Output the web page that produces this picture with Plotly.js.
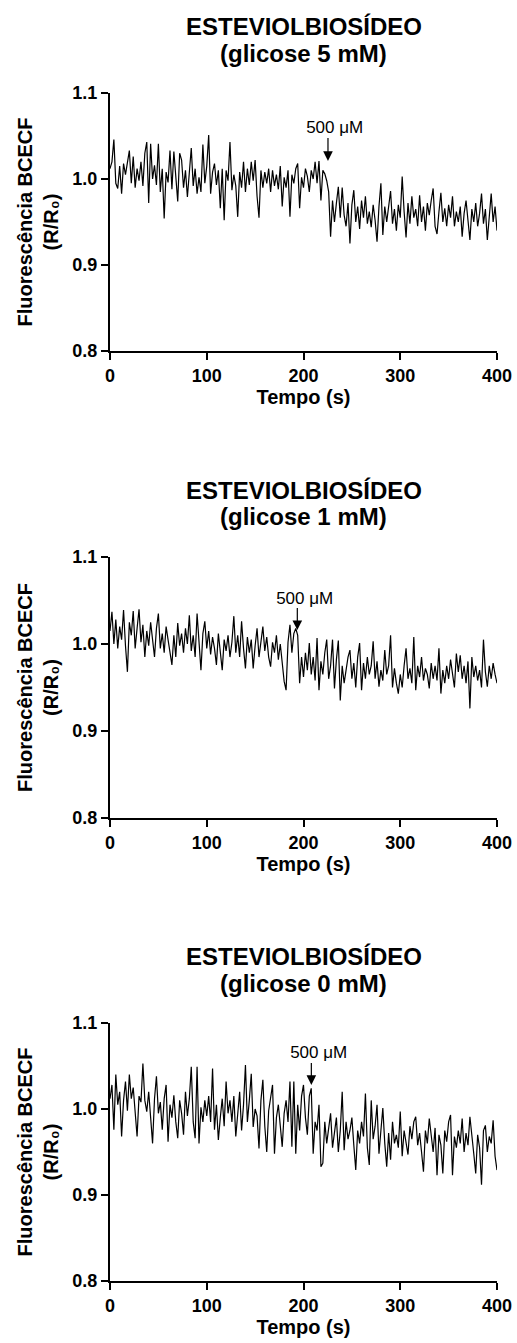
<!DOCTYPE html>
<html>
<head>
<meta charset="utf-8">
<script src="https://cdn.plot.ly/plotly-3.0.1.min.js"></script>
<style>
  html, body { margin: 0; padding: 0; background: #ffffff; }
  #chart { width: 517px; height: 1343px; }
</style>
</head>
<body>
<div id="chart"></div>
<script>
// ---------------- DATA ----------------
const sampleStep = 2; // seconds between plotted samples
const nSamples = 201;
const time = Array.from({length: nSamples}, (_, i) => i * sampleStep);

const panelTitles = ["ESTEVIOLBIOSÍDEO", "ESTEVIOLBIOSÍDEO", "ESTEVIOLBIOSÍDEO"];
const panelSubtitles = ["(glicose 5 mM)", "(glicose 1 mM)", "(glicose 0 mM)"];
const xTitle = "Tempo (s)";
const yTitle = "Fluorescência BCECF<br>(R/R\u2080)";
const doseLabel = "500 μM";
const doseTime = [225.3, 193.6, 208.1];      // s, time of addition (arrow)
const doseTipValue = [1.021, 1.016, 1.028];  // R/R0 at arrow tip

const xTickVals = [0, 100, 200, 300, 400];
const yTickVals = [0.8, 0.9, 1.0, 1.1];

// glicose 5 mM
const glucose5 = [
  1.012, 1.020, 1.046, 0.995, 0.989, 1.015, 0.983, 1.018, 1.005, 1.022,
  1.033, 0.995, 1.026, 0.990, 1.012, 0.998, 1.020, 0.992, 1.030, 1.043,
  0.972, 1.041, 1.000, 1.016, 0.993, 1.041, 0.985, 1.012, 0.954, 1.008,
  0.996, 1.033, 0.988, 1.032, 1.005, 0.974, 1.030, 1.022, 0.990, 1.010,
  0.979, 1.005, 1.036, 0.992, 1.012, 0.983, 1.002, 0.985, 1.040, 0.995,
  1.015, 1.051, 0.983, 1.008, 1.018, 0.993, 1.010, 0.966, 1.012, 0.952,
  1.010, 0.998, 1.043, 0.987, 1.005, 0.992, 0.956, 1.008, 0.990, 1.020,
  0.985, 1.012, 0.993, 1.020, 0.998, 1.022, 0.980, 0.955, 1.010, 0.990,
  1.008, 0.995, 1.012, 0.985, 1.010, 0.992, 1.005, 0.988, 1.015, 0.968,
  1.002, 0.990, 1.010, 0.956, 1.005, 0.995, 1.012, 1.018, 0.966, 1.002,
  0.990, 1.012, 1.003, 0.985, 1.010, 1.000, 1.020, 0.995, 1.021, 0.975,
  1.010, 1.006, 0.998, 0.985, 0.933, 0.975, 0.950, 0.972, 0.991, 0.955,
  0.990, 0.958, 0.945, 0.972, 0.925, 0.970, 0.987, 0.950, 0.968, 0.942,
  0.975, 0.955, 0.980, 0.948, 0.962, 0.944, 0.970, 0.952, 0.927, 0.968,
  0.995, 0.935, 0.968, 0.950, 0.972, 0.986, 0.948, 0.965, 0.940, 0.970,
  0.955, 1.003, 0.962, 0.932, 0.972, 0.948, 0.980, 0.955, 0.965, 0.945,
  0.981, 0.950, 0.968, 0.940, 0.972, 0.958, 0.975, 0.989, 0.945, 0.936,
  0.962, 0.984, 0.950, 0.966, 0.945, 0.970, 0.955, 0.980, 0.945, 0.962,
  0.950, 0.968, 0.933, 0.960, 0.975, 0.948, 0.929, 0.965, 0.950, 0.972,
  0.945, 0.960, 0.983, 0.948, 0.965, 0.929, 0.958, 0.983, 0.950, 0.968,
  0.940
];

// glicose 1 mM
const glucose1 = [
  1.015, 1.037, 1.000, 1.028, 0.995, 1.020, 1.005, 1.039, 0.998, 0.968,
  1.025, 1.010, 1.038, 0.995, 1.018, 1.040, 1.002, 1.022, 0.985, 1.015,
  0.998, 1.025, 1.005, 0.985, 1.018, 1.035, 0.995, 1.012, 0.990, 1.020,
  1.005, 0.992, 0.976, 1.010, 0.985, 1.024, 0.998, 1.012, 0.990, 1.018,
  1.000, 1.033, 0.992, 1.010, 0.985, 1.035, 1.002, 0.970, 1.012, 1.026,
  0.995, 1.015, 0.988, 1.008, 0.995, 0.976, 1.012, 0.990, 0.970, 1.005,
  0.992, 1.010, 0.985, 1.002, 1.032, 0.990, 1.010, 0.985, 1.026, 0.995,
  0.972, 1.008, 0.990, 1.005, 0.972, 0.998, 1.018, 0.985, 1.005, 1.020,
  0.992, 1.008, 0.985, 0.974, 1.002, 0.990, 1.010, 0.982, 1.000, 0.975,
  0.957, 0.947, 1.002, 1.022, 0.990, 1.012, 1.018, 1.010, 0.955, 0.985,
  0.962, 0.990, 0.970, 1.001, 0.965, 0.985, 0.958, 1.007, 0.947, 0.980,
  0.965, 0.990, 1.005, 0.960, 0.975, 1.005, 0.949, 0.982, 1.004, 0.935,
  0.975, 0.955, 0.970, 0.985, 0.993, 0.960, 0.978, 0.950, 0.985, 1.001,
  0.947, 0.978, 0.960, 0.985, 0.965, 0.975, 1.003, 0.960, 0.980, 0.951,
  0.970, 0.958, 0.993, 0.965, 0.975, 1.010, 0.950, 0.972, 0.955, 0.943,
  0.965, 0.950, 0.975, 0.995, 0.960, 0.972, 0.955, 1.008, 0.947, 0.975,
  0.962, 0.985, 0.958, 0.972, 0.965, 0.949, 0.978, 0.960, 0.975, 0.958,
  0.995, 0.943, 0.970, 0.955, 0.975, 0.960, 0.982, 0.965, 0.950, 0.989,
  0.968, 0.987, 0.960, 0.975, 0.955, 0.980, 0.926, 0.985, 0.962, 0.975,
  0.958, 0.970, 0.950, 1.005, 0.968, 0.951, 0.975, 0.960, 0.978, 0.965,
  0.955
];

// glicose 0 mM
const glucose0 = [
  1.012, 1.028, 0.976, 1.040, 1.005, 1.020, 0.968, 1.010, 1.032, 0.998,
  1.040, 1.012, 1.025, 0.995, 0.968, 1.015, 1.008, 1.053, 1.010, 0.997,
  1.020, 0.990, 0.960, 1.012, 1.038, 0.995, 1.008, 0.976, 1.012, 1.028,
  0.962, 1.005, 0.990, 1.016, 0.985, 0.966, 1.010, 0.995, 0.970, 1.020,
  0.992, 1.012, 1.049, 0.985, 0.966, 1.049, 0.960, 1.002, 0.985, 1.010,
  0.992, 1.015, 0.985, 1.047, 0.976, 1.005, 0.964, 0.990, 1.012, 0.980,
  1.032, 0.995, 1.010, 0.985, 1.015, 0.968, 1.000, 1.020, 0.975, 1.005,
  1.051, 0.985, 1.010, 1.041, 0.979, 1.000, 0.992, 0.954, 1.010, 1.034,
  0.980, 0.950, 0.998, 1.012, 1.028, 0.948, 0.990, 1.005, 0.975, 0.956,
  0.995, 1.010, 0.985, 1.032, 0.956, 1.032, 0.948, 1.005, 0.975, 1.015,
  1.028, 0.990, 0.970, 1.015, 1.024, 0.948, 0.985, 0.975, 1.005, 0.933,
  0.937, 0.985, 0.960, 0.978, 0.995, 0.955, 0.970, 0.990, 0.950, 0.975,
  1.020, 0.952, 0.985, 0.965, 0.975, 0.990, 0.958, 0.929, 0.975, 0.960,
  0.985, 0.968, 1.018, 0.955, 0.935, 1.010, 0.965, 0.980, 1.005, 0.948,
  0.975, 1.001, 0.960, 0.933, 0.972, 0.941, 0.985, 0.960, 0.970, 0.955,
  0.997, 0.945, 0.975, 0.962, 0.947, 0.980, 0.965, 0.985, 0.991, 0.958,
  0.972, 0.950, 0.927, 0.975, 0.960, 0.989, 0.965, 0.950, 0.978, 0.923,
  0.970, 0.958, 0.925, 0.975, 0.962, 0.985, 0.993, 0.923, 0.968, 0.955,
  0.975, 0.960, 0.989, 0.950, 0.972, 0.958, 0.991, 0.965, 0.948, 0.925,
  0.970, 0.955, 0.912, 0.975, 0.981, 0.950, 0.968, 0.960, 0.987, 0.945,
  0.929
];

const seriesList = [glucose5, glucose1, glucose0];

// ---------------- LAYOUT (pixel geometry of the page) ----------------
const W = 517, H = 1343;
const FONT = "'Liberation Sans', Arial, Helvetica, sans-serif";
const plotLeft = 110, plotRight = 497;
const panelTop = [93, 557, 1023];
const panelBottom = [351, 818, 1281];
const labelOffsetPx = [-33, -32, -32];
const xRange = [0, 400];
const yRange = [0.8, 1.1];

const px2x = p => p / W;
const py2y = p => 1 - p / H;

const layout = {
  width: W, height: H,
  margin: {l: 0, r: 0, t: 0, b: 0, pad: 0},
  paper_bgcolor: '#ffffff',
  plot_bgcolor: '#ffffff',
  showlegend: false,
  hovermode: false,
  font: {family: FONT, color: '#000000'},
  annotations: []
};

const traces = [];

for (let i = 0; i < 3; i++) {
  const sfx = i === 0 ? '' : String(i + 1);
  const xa = 'xaxis' + sfx, ya = 'yaxis' + sfx;
  const xr = 'x' + sfx, yr = 'y' + sfx;
  const common = {
    showline: true, linecolor: '#000000', linewidth: 2,
    ticks: 'outside', ticklen: 7, tickwidth: 2, tickcolor: '#000000',
    showgrid: false, zeroline: false, fixedrange: true, automargin: false,
    tickfont: {family: FONT, size: 18, color: '#000000', weight: 'bold'}
  };
  layout[xa] = Object.assign({}, common, {
    domain: [px2x(plotLeft), px2x(plotRight)],
    range: xRange, anchor: yr,
    tickmode: 'array', tickvals: xTickVals, ticktext: xTickVals.map(String),
    title: {text: xTitle, standoff: 4,
            font: {family: FONT, size: 20, color: '#000000', weight: 'bold'}}
  });
  layout[ya] = Object.assign({}, common, {
    domain: [py2y(panelBottom[i]), py2y(panelTop[i])],
    range: yRange, anchor: xr,
    tickmode: 'array', tickvals: yTickVals, ticktext: yTickVals.map(v => v.toFixed(1)),
    title: {text: yTitle, standoff: 8,
            font: {family: FONT, size: 20, color: '#000000', weight: 'bold'}}
  });

  traces.push({
    x: time, y: seriesList[i], xaxis: xr, yaxis: yr,
    type: 'scatter', mode: 'lines',
    line: {color: '#000000', width: 1.2}
  });

  const top = panelTop[i];
  const cx = (plotLeft + plotRight) / 2;
  // panel titles (two lines)
  layout.annotations.push({
    xref: 'paper', yref: 'paper', x: px2x(cx), y: py2y(top - 67),
    xanchor: 'center', yanchor: 'middle', showarrow: false,
    text: panelTitles[i],
    font: {family: FONT, size: 24, color: '#000000', weight: 'bold'}
  });
  layout.annotations.push({
    xref: 'paper', yref: 'paper', x: px2x(cx), y: py2y(top - 40),
    xanchor: 'center', yanchor: 'middle', showarrow: false,
    text: panelSubtitles[i],
    font: {family: FONT, size: 24, color: '#000000', weight: 'bold'}
  });
  // dose label with vertical arrow (leading spaces shift the text right of the arrow)
  layout.annotations.push({
    xref: xr, yref: yr, x: doseTime[i], y: doseTipValue[i],
    axref: 'pixel', ayref: 'pixel', ax: 0, ay: labelOffsetPx[i],
    text: '\u00a0\u00a0\u00a0' + doseLabel,
    font: {family: FONT, size: 17, color: '#000000'},
    showarrow: true, arrowhead: 2, arrowsize: 1.6, arrowwidth: 1.2,
    arrowcolor: '#000000', standoff: 0, borderpad: 0
  });
}

Plotly.newPlot('chart', traces, layout, {displayModeBar: false, staticPlot: true});
</script>
</body>
</html>
